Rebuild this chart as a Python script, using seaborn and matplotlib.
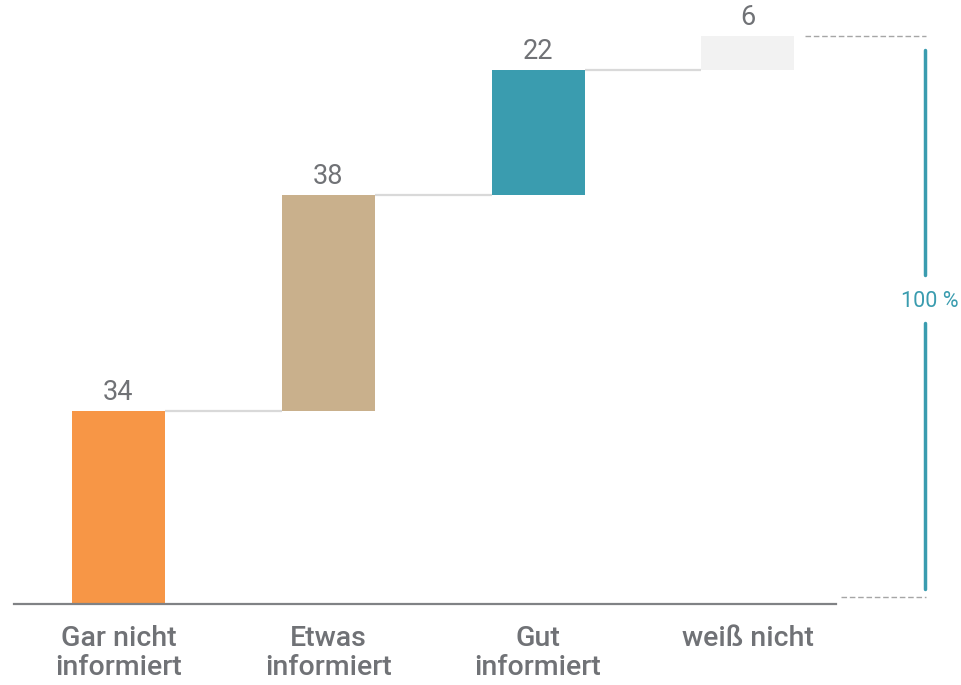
import numpy as np
import pandas as pd
import matplotlib
matplotlib.use('Agg')
import matplotlib.pyplot as plt
import seaborn as sns

categories = ['Gar nicht\ninformiert', 'Etwas\ninformiert', 'Gut\ninformiert', 'weiß nicht']
values = [34, 38, 22, 6]
colors = ['#f79646', '#c9b08c', '#3a9caf', '#f2f2f2']
total_label = '100 %'

sns.set_theme(style='white')
plt.rcParams['font.family'] = ['Roboto', 'DejaVu Sans']

df = pd.DataFrame({'cat': categories, 'value': values})
df['bottom'] = df['value'].cumsum() - df['value']
df['top'] = df['value'].cumsum()
total = df['value'].sum()

fig = plt.figure(figsize=(9.62, 6.85), dpi=100)
ax = fig.add_axes([14 / 962, 81 / 685, 822 / 962, 604 / 685])

sns.barplot(data=df, x='cat', y='value', ax=ax, width=0.443, color='grey',
            bottom=df['bottom'].values, linewidth=0)
for patch, c in zip(ax.patches, colors):
    patch.set_facecolor(c)

ax.set_xlim(-0.498, 3.42)
ax.set_ylim(0, total * 1.0634)

# connectors between bars
half = 0.443 / 2
for i in range(len(df) - 1):
    ax.plot([i + half, i + 1 - half], [df['top'][i], df['top'][i]],
            color='#d9d9d9', lw=1.6, solid_capstyle='butt')

# value labels
for i, row in df.iterrows():
    ax.text(i, row['top'] + 0.9, str(row['value']), ha='center', va='bottom',
            fontsize=19.5, color='#707276', fontweight='normal')

# axis styling
sns.despine(ax=ax, left=True)
ax.spines['bottom'].set_color('#808285')
ax.spines['bottom'].set_linewidth(1.6)
ax.set_yticks([])
ax.set_xlabel('')
ax.set_ylabel('')
ax.tick_params(axis='x', length=0, pad=15)
for lbl in ax.get_xticklabels():
    lbl.set_fontsize(20.5)
    lbl.set_color('#707276')
    lbl.set_fontweight('medium')
    lbl.set_linespacing(1.12)

# 100 % bracket on the right
ax.plot([3.274, 3.851], [total, total], color='#a6a6a6', lw=1, ls=(0, (4, 2)), clip_on=False)
ax.plot([3.445, 3.851], [1.2, 1.2], color='#a6a6a6', lw=1, ls=(0, (4, 2)), clip_on=False)
ax.plot([3.846, 3.846], [97.5, 57.9], color='#3a9caf', lw=2.5, clip_on=False)
ax.plot([3.846, 3.846], [49.5, 2.6], color='#3a9caf', lw=2.5, clip_on=False)
ax.text(3.868, 53.2, total_label, ha='center', va='center', fontsize=15.5,
        color='#3a9caf', fontweight='normal', clip_on=False)

fig.savefig('out.png', dpi=100)
